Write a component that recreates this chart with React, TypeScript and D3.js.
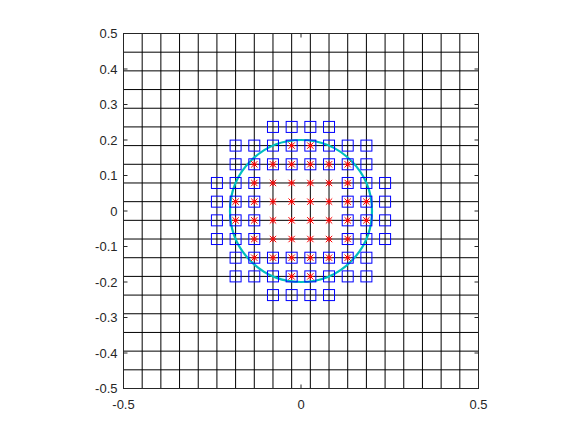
import React, { useEffect, useRef } from 'react';
import * as d3 from 'd3';

// mesh: 19 cells on [-0.5, 0.5], nodes sit on the mesh lines
const meshCells = 19;
const circleRadius = 0.2;
const xTicks = [-0.5, 0, 0.5];
const yTicks = [-0.5, -0.4, -0.3, -0.2, -0.1, 0, 0.1, 0.2, 0.3, 0.4, 0.5];

// blue squares: [row index, column indices]
const squareRows: [number, number[]][] = [
    [5, [8, 9, 10, 11]],
    [6, [6, 7, 8, 9, 10, 11, 12, 13]],
    [7, [6, 7, 8, 9, 10, 11, 12, 13]],
    [8, [5, 6, 7, 12, 13, 14]],
    [9, [5, 6, 7, 12, 13, 14]],
    [10, [5, 6, 7, 12, 13, 14]],
    [11, [5, 6, 7, 12, 13, 14]],
    [12, [6, 7, 8, 9, 10, 11, 12, 13]],
    [13, [6, 7, 8, 9, 10, 11, 12, 13]],
    [14, [8, 9, 10, 11]],
];

// red asterisks: [row index, column indices]
const starRows: [number, number[]][] = [
    [6, [9, 10]],
    [7, [7, 8, 9, 10, 11, 12]],
    [8, [7, 8, 9, 10, 11, 12]],
    [9, [6, 7, 8, 9, 10, 11, 12, 13]],
    [10, [6, 7, 8, 9, 10, 11, 12, 13]],
    [11, [7, 8, 9, 10, 11, 12]],
    [12, [7, 8, 9, 10, 11, 12]],
    [13, [9, 10]],
];

export default function App() {
    const ref = useRef<SVGSVGElement>(null);

    useEffect(() => {
        if (!ref.current) return;
        const svg = d3.select(ref.current);
        svg.selectAll('*').remove();

        const x = d3.scaleLinear().domain([-0.5, 0.5]).range([123.5, 478.5]);
        const y = d3.scaleLinear().domain([-0.5, 0.5]).range([388.5, 33.5]);
        const node = (i: number) => -0.5 + i / meshCells;
        const lines = d3.range(meshCells + 1).map(node);
        const axisColor = '#262626';
        const font = '"Liberation Sans", Arial, Helvetica, sans-serif';

        // mesh
        const g = svg.append('g');
        g.selectAll('.vline').data(lines).join('line')
            .attr('x1', d => x(d)).attr('x2', d => x(d))
            .attr('y1', y(-0.5)).attr('y2', y(0.5))
            .attr('stroke', '#000').attr('stroke-width', 1);
        g.selectAll('.hline').data(lines).join('line')
            .attr('y1', d => y(d)).attr('y2', d => y(d))
            .attr('x1', x(-0.5)).attr('x2', x(0.5))
            .attr('stroke', '#000').attr('stroke-width', 1);

        // circle
        svg.append('circle')
            .attr('cx', x(0)).attr('cy', y(0))
            .attr('r', x(circleRadius) - x(0))
            .attr('fill', 'none').attr('stroke', '#00bfbf').attr('stroke-width', 2.2);

        // squares
        const squares = squareRows.flatMap(([r, cols]) => cols.map(c => [node(c), node(r)]));
        const s = 5.5;
        svg.append('g').selectAll('rect').data(squares).join('rect')
            .attr('x', d => x(d[0]) - s).attr('y', d => y(d[1]) - s)
            .attr('width', 2 * s).attr('height', 2 * s)
            .attr('fill', 'none').attr('stroke', '#0000ff').attr('stroke-width', 1);

        // asterisks
        const stars = starRows.flatMap(([r, cols]) => cols.map(c => [node(c), node(r)]));
        const a = 3.2;
        const starPath = `M${-a},${-a}L${a},${a}M${-a},${a}L${a},${-a}M0,${-a}L0,${a}M${-a},0L${a},0`;
        svg.append('g').selectAll('path').data(stars).join('path')
            .attr('transform', d => `translate(${x(d[0])},${y(d[1])})`)
            .attr('d', starPath)
            .attr('fill', 'none').attr('stroke', '#ff0000').attr('stroke-width', 1);

        // box + ticks
        svg.append('rect')
            .attr('x', x(-0.5)).attr('y', y(0.5))
            .attr('width', x(0.5) - x(-0.5)).attr('height', y(-0.5) - y(0.5))
            .attr('fill', 'none').attr('stroke', axisColor).attr('stroke-width', 1);

        const tl = 4;
        const tg = svg.append('g').attr('stroke', axisColor).attr('stroke-width', 1);
        yTicks.forEach(t => {
            tg.append('line').attr('x1', x(-0.5)).attr('x2', x(-0.5) + tl).attr('y1', y(t)).attr('y2', y(t));
            tg.append('line').attr('x1', x(0.5)).attr('x2', x(0.5) - tl).attr('y1', y(t)).attr('y2', y(t));
        });
        xTicks.forEach(t => {
            tg.append('line').attr('y1', y(-0.5)).attr('y2', y(-0.5) - tl).attr('x1', x(t)).attr('x2', x(t));
            tg.append('line').attr('y1', y(0.5)).attr('y2', y(0.5) + tl).attr('x1', x(t)).attr('x2', x(t));
        });

        svg.append('g').selectAll('text').data(yTicks).join('text')
            .attr('x', x(-0.5) - 6).attr('y', d => y(d))
            .attr('dy', '0.35em').attr('text-anchor', 'end')
            .style('font-family', font).style('font-size', '13px').attr('fill', axisColor)
            .text(d => String(d));
        svg.append('g').selectAll('text').data(xTicks).join('text')
            .attr('x', d => x(d)).attr('y', y(-0.5) + 20)
            .attr('text-anchor', 'middle')
            .style('font-family', font).style('font-size', '13px').attr('fill', axisColor)
            .text(d => String(d));
    }, []);

    return (
        <svg ref={ref} width={581} height={436}
            style={{ position: 'absolute', left: 0, top: 0, background: '#fff' }} />
    );
}
